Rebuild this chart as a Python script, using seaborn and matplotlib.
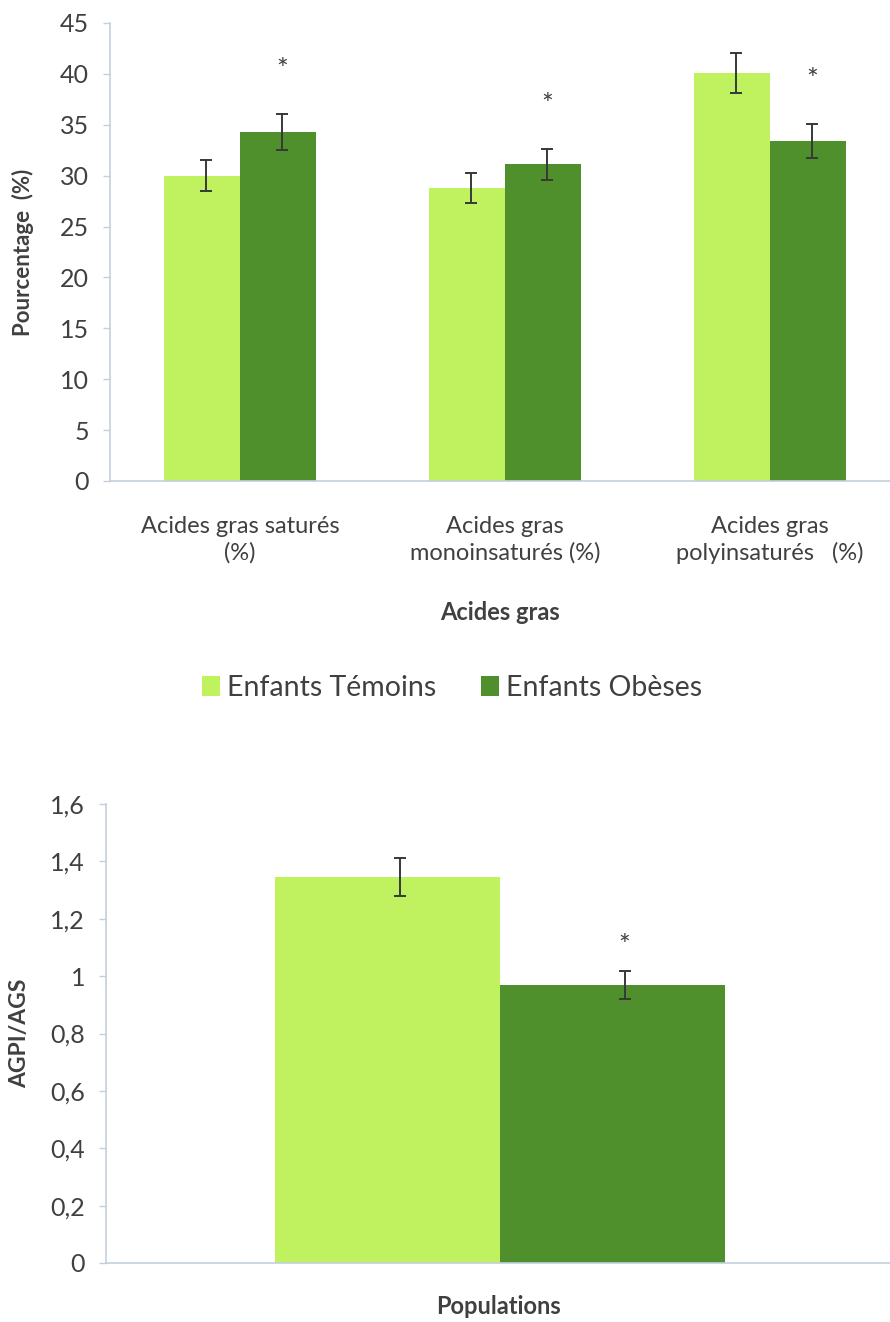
import matplotlib
matplotlib.use("Agg")
import matplotlib.pyplot as plt
from matplotlib.ticker import FuncFormatter, MultipleLocator
from matplotlib.patches import Patch
import seaborn as sns
import pandas as pd

# --- Data -----------------------------------------------------------------
acides = ["Acides gras saturés\n(%)",
          "Acides gras\nmonoinsaturés (%)",
          "Acides gras\npolyinsaturés   (%)"]
groupes = ["Enfants Témoins", "Enfants Obèses"]

temoins = [30.0, 28.8, 40.1]
temoins_err = [1.5, 1.45, 2.0]
obeses = [34.3, 31.1, 33.4]
obeses_err = [1.75, 1.55, 1.7]
obeses_signif = [True, True, True]

ratio_temoins = 1.345
ratio_temoins_err = 0.066
ratio_obeses = 0.969
ratio_obeses_err = 0.049
ratio_signif = [False, True]

# --- Style ----------------------------------------------------------------
light_green = "#c0f15e"
dark_green = "#50902c"
axis_col = "#c3cfdc"
text_col = "#404040"
err_col = "#383838"

sns.set_theme(style="white")
plt.rcParams["font.family"] = ["Lato", "DejaVu Sans"]
plt.rcParams["text.color"] = text_col
plt.rcParams["axes.labelcolor"] = text_col
plt.rcParams["xtick.color"] = axis_col
plt.rcParams["ytick.color"] = axis_col

W, H = 890, 1322
fig = plt.figure(figsize=(W / 100, H / 100), dpi=100)


def style_axes(ax):
    for side in ("top", "right"):
        ax.spines[side].set_visible(False)
    for side in ("left", "bottom"):
        ax.spines[side].set_color(axis_col)
        ax.spines[side].set_linewidth(1.2)
    ax.tick_params(axis="y", which="major", direction="out", length=5,
                   width=1.0, pad=10, labelsize=18, labelcolor=text_col,
                   left=True)
    ax.tick_params(axis="x", length=0)


def add_errors(ax, containers, errs, signif, star_offset):
    for bars, err, sig in zip(containers, errs, signif):
        for bar, e, s in zip(bars, err, sig):
            x = bar.get_x() + bar.get_width() / 2 + 0.015
            y = bar.get_height()
            ax.errorbar(x, y, yerr=e, fmt="none", ecolor=err_col,
                        elinewidth=1.4, capsize=4.5, capthick=1.4, zorder=3)
            if s:
                ax.annotate("*", xy=(x, y + e), xytext=(0, star_offset),
                            textcoords="offset points", ha="center",
                            va="center", fontsize=20, color=text_col)


# --- Top chart: fatty acid composition ------------------------------------
df_top = pd.DataFrame({
    "acide": acides * 2,
    "valeur": temoins + obeses,
    "groupe": [groupes[0]] * len(acides) + [groupes[1]] * len(acides),
})

ax1 = fig.add_axes([110 / W, 1 - 481 / H, (W - 110) / W, 458 / H])
sns.barplot(data=df_top, x="acide", y="valeur", hue="groupe",
            palette=[light_green, dark_green], width=0.574, errorbar=None,
            saturation=1, legend=False, ax=ax1, linewidth=0)
style_axes(ax1)
ax1.set_ylim(0, 45)
ax1.yaxis.set_major_locator(MultipleLocator(5))
ax1.set_xlim(-0.49, 2.453)
ax1.tick_params(axis="x", pad=25, labelsize=17, labelcolor=text_col)
for lbl in ax1.get_xticklabels():
    lbl.set_linespacing(1.3)
add_errors(ax1, ax1.containers, [temoins_err, obeses_err],
           [[False] * 3, obeses_signif], 31)
ax1.set_ylabel("Pourcentage  (%)", fontsize=16, fontweight="bold")
ax1.yaxis.set_label_coords(-0.097, 0.5)
ax1.set_xlabel("Acides gras", fontsize=17, fontweight="bold")
ax1.xaxis.set_label_coords(0.5, -0.262)

# --- Legend ---------------------------------------------------------------
handles = [Patch(facecolor=light_green, edgecolor="none"),
           Patch(facecolor=dark_green, edgecolor="none")]
fig.legend(handles, groupes, loc="center", ncol=2, frameon=False,
           bbox_to_anchor=(452 / W, 1 - 688 / H), fontsize=20.5,
           handlelength=0.65, handleheight=0.65, handletextpad=0.25,
           columnspacing=1.55)

# --- Bottom chart: PUFA / SFA ratio ---------------------------------------
df_bot = pd.DataFrame({
    "population": ["Populations", "Populations"],
    "ratio": [ratio_temoins, ratio_obeses],
    "groupe": groupes,
})

ax2 = fig.add_axes([106 / W, 1 - 1263 / H, (W - 106) / W, 459 / H])
sns.barplot(data=df_bot, x="population", y="ratio", hue="groupe",
            palette=[light_green, dark_green], width=0.574, errorbar=None,
            saturation=1, legend=False, ax=ax2, linewidth=0)
style_axes(ax2)
ax2.set_ylim(0, 1.6)
ax2.yaxis.set_major_locator(MultipleLocator(0.2))
ax2.yaxis.set_major_formatter(
    FuncFormatter(lambda v, _: f"{round(v, 1):g}".replace(".", ",")))
ax2.set_xlim(-0.503, 0.497)
ax2.set_xticklabels([])
add_errors(ax2, ax2.containers, [[ratio_temoins_err], [ratio_obeses_err]],
           [[ratio_signif[0]], [ratio_signif[1]]], 17)
ax2.set_ylabel("AGPI/AGS", fontsize=16.5, fontweight="bold")
ax2.yaxis.set_label_coords(-0.097, 0.5)
ax2.set_xlabel("Populations", fontsize=17, fontweight="bold")
ax2.xaxis.set_label_coords(0.5, -0.07)

fig.savefig("out.png", dpi=100)
